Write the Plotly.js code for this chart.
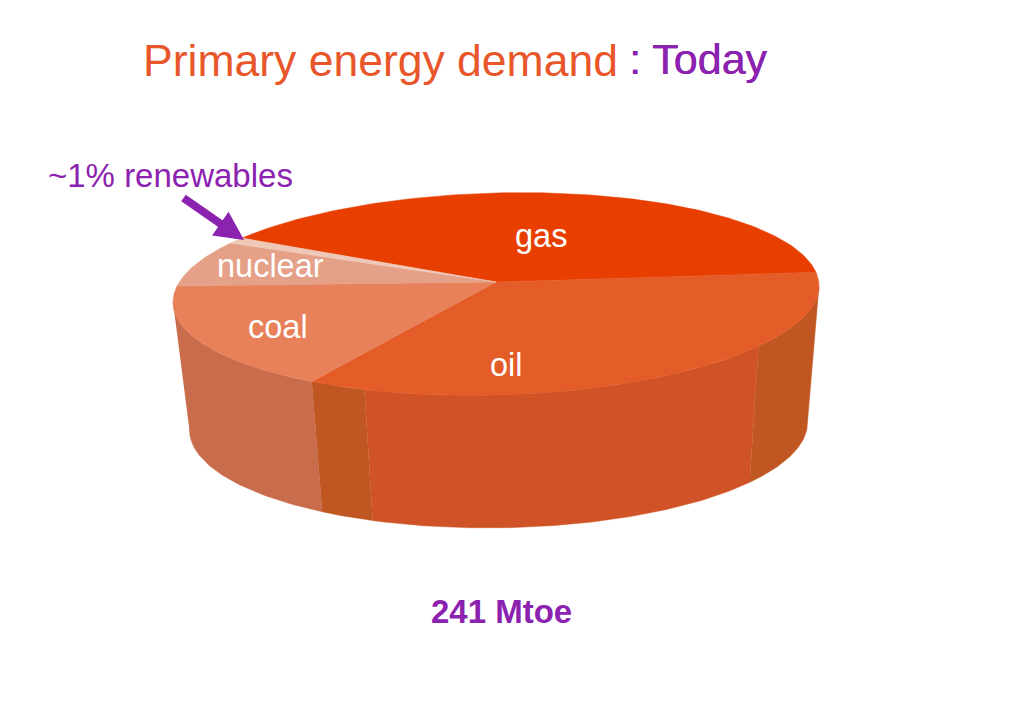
<!DOCTYPE html>
<html>
<head>
<meta charset="utf-8">
<script src="https://cdn.plot.ly/plotly-3.0.1.min.js"></script>
<style>html,body{margin:0;padding:0;background:#fff}#chart{width:1024px;height:724px}</style>
</head>
<body>
<div id="chart"></div>
<script>
// Data (% of primary energy demand)
var sliceNames = ["gas", "oil", "coal", "nuclear", "renewables"];
var sliceShares = [40.7, 33.9, 17.0, 7.4, 1.0];
var totalLabel = "241 Mtoe";
var titleMain = "Primary energy demand";
var titleSuffix = ": Today";
var calloutLabel = "~1% renewables";

// Styles
var FONT = "Liberation Sans, Arial, sans-serif";
var ORANGE = "#E8562A", PURPLE = "#8C22B0";
var topColors = ["#E83F00", "#E45C28", "#E8805A", "#E5A088", "#EFC8B8"];
var WALL_COAL = "#C96C4B", WALL_DARK = "#C05622", WALL_OIL = "#D05327";

// Projection of the tilted disc
var cx = 496, topY = 282, A = 320.7, B = 99.6, k = 0.1188, topShear = -0.025;
var baseCx = 498.5, baseY = 414, baseScaleX = 0.957, baseScaleY = 1.007, baseShear = -0.012;
var START = 147.5;

function project(deg, level) {
  var t = deg * Math.PI / 180, X = Math.cos(t), Y = Math.sin(t), w = 1 + k * Y;
  var c0 = level ? baseCx : cx, c = level ? baseY : topY;
  var dx = (level ? baseScaleX : 1) * A * X / w;
  var dy = -(level ? baseScaleY : 1) * B * Y / w;
  return [c0 + dx, c + dy + (level ? baseShear : topShear) * dx];
}
function arc(a, b, level) {
  var out = [], n = Math.max(2, Math.ceil(Math.abs(b - a)));
  for (var i = 0; i <= n; i++) out.push(project(a + (b - a) * i / n, level));
  return out;
}
function poly(points, color, name) {
  return {
    type: "scatter", mode: "lines", x: points.map(function (p) { return p[0]; }),
    y: points.map(function (p) { return p[1]; }), fill: "toself", fillcolor: color,
    line: { width: 0.5, color: color }, name: name, hoverinfo: "name", showlegend: false
  };
}

// Slice boundary angles, running clockwise from START
var edges = [START];
sliceShares.forEach(function (v) { edges.push(edges[edges.length - 1] - v * 3.6); });
var oilCoalEdge = edges[2] + 360;   // oil -> coal boundary, on the front

function wall(a, b, color, name) {
  return poly(arc(a, b, 0).concat(arc(b, a, 1)), color, name);
}
var leftSil = 186.8, rightSil = 353.2;
var traces = [
  wall(leftSil, oilCoalEdge, WALL_COAL, "coal side"),
  wall(oilCoalEdge, 248.6, WALL_DARK, "oil side"),
  wall(248.6, 319, WALL_OIL, "oil side"),
  wall(319, rightSil, WALL_DARK, "oil side")
];
sliceNames.forEach(function (name, i) {
  var pts = [[cx, topY]].concat(arc(edges[i], edges[i + 1], 0));
  pts.push([cx, topY]);
  traces.push(poly(pts, topColors[i], name));
});

function label(text, x, y, size, color, extra) {
  var f = { family: FONT, size: size, color: color };
  if (extra) f.shadow = extra;
  return {
    text: text, x: x, y: y, xref: "x", yref: "y", showarrow: false, xanchor: "center", yanchor: "middle",
    font: f
  };
}
var annotations = [
  label(titleMain, 380, 60, 44.5, ORANGE),
  label(titleSuffix, 698, 59, 43, PURPLE, "0.5px 0 0 #8C22B0"),
  label(calloutLabel, 170, 175.5, 33, PURPLE),
  label(sliceNames[0], 541, 236, 32.5, "#FFFFFF"),
  label(sliceNames[3], 270, 266, 32.5, "#FFFFFF"),
  label(sliceNames[2], 278, 327, 32.5, "#FFFFFF"),
  label(sliceNames[1], 506, 365, 32.5, "#FFFFFF"),
  label("<b>" + totalLabel + "</b>", 501, 611, 33, PURPLE),
  {
    x: 244, y: 240, ax: 182, ay: 197, xref: "x", yref: "y", axref: "x", ayref: "y", text: "",
    showarrow: true, arrowhead: 2, arrowsize: 0.72, arrowwidth: 8, arrowcolor: PURPLE
  }
];

var layout = {
  width: 1024, height: 724, margin: { l: 0, r: 0, t: 0, b: 0 }, showlegend: false,
  paper_bgcolor: "#FFFFFF", plot_bgcolor: "#FFFFFF", hovermode: "closest",
  xaxis: { range: [0, 1024], visible: false, fixedrange: true },
  yaxis: { range: [724, 0], visible: false, fixedrange: true },
  annotations: annotations
};
Plotly.newPlot("chart", traces, layout, { displayModeBar: false });
</script>
</body>
</html>
